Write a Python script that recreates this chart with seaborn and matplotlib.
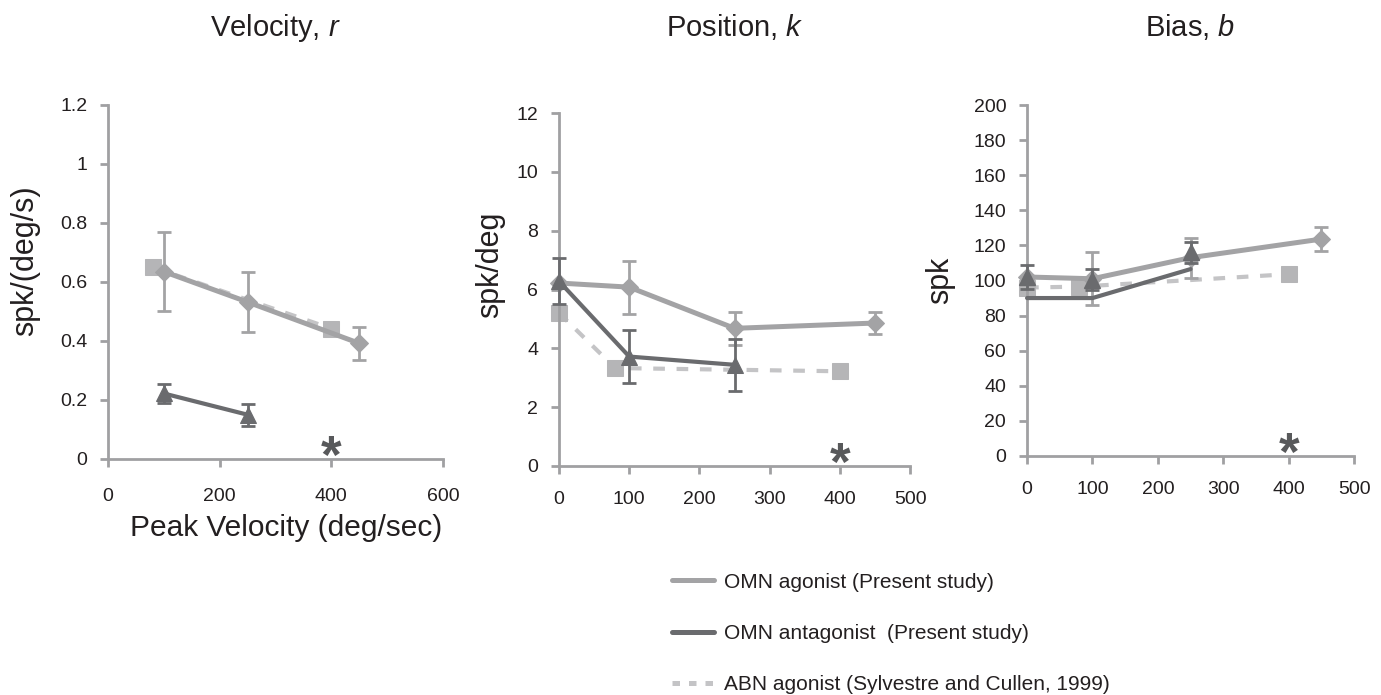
import matplotlib
matplotlib.use("Agg")
import matplotlib.pyplot as plt
from matplotlib.lines import Line2D
import seaborn as sns

sns.set_theme(style="white")
plt.rcParams["font.family"] = ["Liberation Sans", "DejaVu Sans"]
plt.rcParams["mathtext.fontset"] = "custom"
plt.rcParams["mathtext.rm"] = "Liberation Sans"
plt.rcParams["mathtext.it"] = "Liberation Sans:italic"

# ---- data ----
# Velocity, r
vel_ag_x = [100, 250, 450]
vel_ag_y = [0.635, 0.532, 0.392]
vel_ag_err = [0.135, 0.103, 0.055]
vel_ant_x = [100, 250]
vel_ant_y = [0.222, 0.150]
vel_ant_err = [0.032, 0.037]
vel_abn_x = [80, 400]
vel_abn_y = [0.650, 0.442]

# Position, k
pos_ag_x = [0, 100, 250, 450]
pos_ag_y = [6.22, 6.08, 4.68, 4.86]
pos_ag_err = [0.0, 0.9, 0.56, 0.38]
pos_ant_x = [0, 100, 250]
pos_ant_y = [6.28, 3.72, 3.44]
pos_ant_err = [0.78, 0.9, 0.88]
pos_abn_x = [0, 80, 400]
pos_abn_y = [5.2, 3.33, 3.22]

# Bias, b
bias_ag_x = [0, 100, 250, 450]
bias_ag_y = [102.0, 101.0, 113.0, 123.6]
bias_ag_err = [0.0, 15.0, 11.5, 7.0]
bias_ant_x = [0, 100, 250]
bias_ant_line = [90.0, 90.0, 106.5]
bias_ant_y = [102.0, 100.5, 116.0]
bias_ant_err = [7.0, 6.0, 6.0]
bias_abn_x = [0, 80, 400]
bias_abn_y = [96.0, 96.5, 103.6]

star_x = 400

titles = ["Velocity, $\\mathit{r}$", "Position, $\\mathit{k}$", "Bias, $\\mathit{b}$"]
ylabels = ["spk/(deg/s)", "spk/deg", "spk"]
legend_labels = ["OMN agonist (Present study)",
                 "OMN antagonist  (Present study)",
                 "ABN agonist (Sylvestre and Cullen, 1999)"]

C_AG = "#a3a3a5"
C_ANT = "#6a6b6e"
C_ABN = "#c4c4c6"
C_SQ = "#b5b5b7"
C_AX = "#a0a0a2"
C_TXT = "#231f20"
C_STAR = "#58595b"

fig = plt.figure(figsize=(13.81, 6.95), dpi=100)
ax1 = fig.add_axes([0.0782, 0.3396, 0.2426, 0.5094])
ax2 = fig.add_axes([0.4048, 0.3295, 0.2542, 0.5079])
ax3 = fig.add_axes([0.7437, 0.3439, 0.2368, 0.5050])


def draw_panel(ax, ag, ant, abn, ant_line=None):
    # ABN agonist dashed with squares
    sns.lineplot(x=abn[0], y=abn[1], ax=ax, color=C_ABN, lw=3.0,
                 linestyle=(0, (2.8, 2.8)), marker="s", markersize=11.5,
                 markerfacecolor=C_SQ, markeredgecolor=C_SQ, clip_on=False, zorder=2)
    # OMN agonist
    sns.lineplot(x=ag[0], y=ag[1], ax=ax, color=C_AG, lw=3.6, marker="D",
                 markersize=9, markeredgecolor=C_AG, clip_on=False, zorder=3)
    ax.errorbar(ag[0], ag[1], yerr=ag[2], fmt="none", ecolor=C_AG,
                elinewidth=2.0, capsize=5, capthick=2.0, clip_on=False, zorder=3)
    # OMN antagonist
    if ant_line is None:
        sns.lineplot(x=ant[0], y=ant[1], ax=ax, color=C_ANT, lw=3.0, marker="^",
                     markersize=11, markeredgecolor=C_ANT, clip_on=False, zorder=4)
    else:
        sns.lineplot(x=ant[0], y=ant_line, ax=ax, color=C_ANT, lw=3.0,
                     clip_on=False, zorder=4)
        ax.plot(ant[0], ant[1], ls="none", marker="^", markersize=11,
                color=C_ANT, clip_on=False, zorder=4)
    ax.errorbar(ant[0], ant[1], yerr=ant[2], fmt="none", ecolor=C_ANT,
                elinewidth=2.0, capsize=5, capthick=2.0, clip_on=False, zorder=4)


draw_panel(ax1, (vel_ag_x, vel_ag_y, vel_ag_err),
           (vel_ant_x, vel_ant_y, vel_ant_err), (vel_abn_x, vel_abn_y))
draw_panel(ax2, (pos_ag_x, pos_ag_y, pos_ag_err),
           (pos_ant_x, pos_ant_y, pos_ant_err), (pos_abn_x, pos_abn_y))
draw_panel(ax3, (bias_ag_x, bias_ag_y, bias_ag_err),
           (bias_ant_x, bias_ant_y, bias_ant_err), (bias_abn_x, bias_abn_y),
           ant_line=bias_ant_line)

limits = [((0, 600), [0, 200, 400, 600], (0, 1.2), [0, 0.2, 0.4, 0.6, 0.8, 1, 1.2]),
          ((0, 500), [0, 100, 200, 300, 400, 500], (0, 12), list(range(0, 13, 2))),
          ((0, 500), [0, 100, 200, 300, 400, 500], (0, 200), list(range(0, 201, 20)))]
ylabs = [["0", "0.2", "0.4", "0.6", "0.8", "1", "1.2"], None, None]
xpads = [15, 12, 12]
ylab_coords = [(-0.203, 0.559), (-0.154, 0.569), (-0.22, 0.50)]

for i, ax in enumerate([ax1, ax2, ax3]):
    xl, xt, yl, yt = limits[i]
    ax.set_xlim(*xl)
    ax.set_ylim(*yl)
    ax.set_xticks(xt)
    ax.set_yticks(yt)
    if ylabs[i]:
        ax.set_yticklabels(ylabs[i])
    for s in ["top", "right"]:
        ax.spines[s].set_visible(False)
    for s in ["left", "bottom"]:
        ax.spines[s].set_color(C_AX)
        ax.spines[s].set_linewidth(2.0)
    ax.tick_params(axis="both", direction="out", length=6, width=2.0, color=C_AX,
                   labelsize=14, labelcolor=C_TXT, left=True, bottom=True)
    ax.tick_params(axis="y", pad=9)
    ax.tick_params(axis="x", pad=xpads[i])
    ax.grid(False)
    ax.set_xlabel("")
    ax.set_ylabel(ylabels[i], fontsize=22, color=C_TXT)
    ax.yaxis.set_label_coords(*ylab_coords[i])
    ax.text(star_x, 0, "*", fontsize=38, color=C_STAR, ha="center", va="center",
            fontweight="bold", transform=ax.transData, clip_on=False, zorder=5)
    # titles
    pos = ax.get_position()
    fig.text(pos.x0 + pos.width / 2, 0.948, titles[i], fontsize=21,
             color=C_TXT, ha="center", va="baseline")

ax1.set_xlabel("Peak Velocity (deg/sec)", fontsize=21.5, color=C_TXT)
ax1.xaxis.set_label_coords(0.531, -0.155)

handles = [Line2D([], [], color=C_AG, lw=3.6),
           Line2D([], [], color=C_ANT, lw=3.6),
           Line2D([], [], color=C_ABN, lw=3.6, linestyle=(0, (1.5, 1.8)))]
leg = fig.legend(handles, legend_labels, loc="upper left",
                 bbox_to_anchor=(0.4866, 0.176), frameon=False,
                 prop={"family": ["Liberation Sans Narrow", "Liberation Sans"], "size": 15},
                 borderpad=0, borderaxespad=0,
                 handlelength=2.0, handletextpad=0.5, labelspacing=1.55)
for t in leg.get_texts():
    t.set_color(C_TXT)

fig.savefig("out.png", dpi=100)
